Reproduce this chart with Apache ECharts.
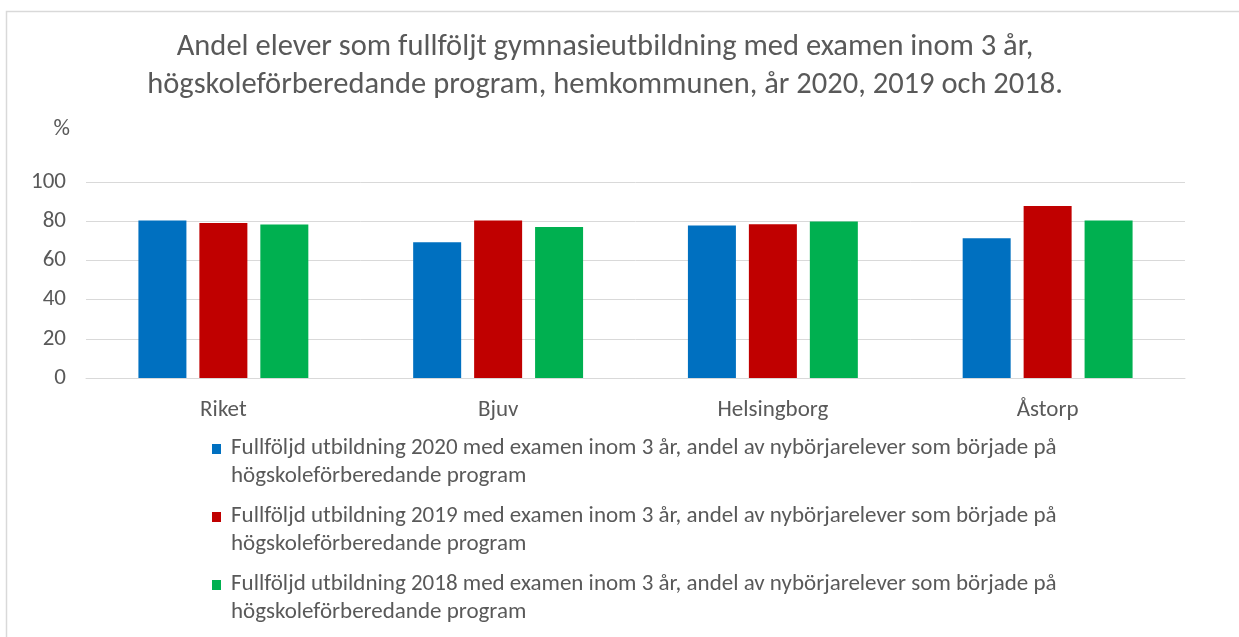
<!DOCTYPE html>
<html>
<head>
<meta charset="utf-8">
<script src="https://cdn.jsdelivr.net/npm/echarts@6/dist/echarts.min.js"></script>
<style>
  html, body { margin: 0; padding: 0; background: #ffffff; }
  #chart { width: 1239px; height: 637px; }
</style>
</head>
<body>
<div id="chart"></div>
<script>
// Kommuner och riket
const categories = ['Riket', 'Bjuv', 'Helsingborg', 'Åstorp'];

// Andel (%) som fullföljt med examen inom 3 år
const values2020 = [80.4, 69.2, 77.8, 71.3];
const values2019 = [79.1, 80.4, 78.5, 87.7];
const values2018 = [78.3, 77.1, 79.8, 80.4];

const seriesNames = [
  'Fullföljd utbildning 2020 med examen inom 3 år, andel av nybörjarelever som började på högskoleförberedande program',
  'Fullföljd utbildning 2019 med examen inom 3 år, andel av nybörjarelever som började på högskoleförberedande program',
  'Fullföljd utbildning 2018 med examen inom 3 år, andel av nybörjarelever som började på högskoleförberedande program'
];
const seriesColors = ['#0070C0', '#C00000', '#00B050'];

const yTicks = { min: 0, max: 100, interval: 20 };

const titleText = 'Andel elever som fullföljt gymnasieutbildning med examen inom 3 år,\nhögskoleförberedande program, hemkommunen, år 2020, 2019 och 2018.';

const FONT = 'Carlito, Calibri, "Liberation Sans Narrow", "Open Sans", sans-serif';
const TEXT_COLOR = '#595959';
const GRID_COLOR = '#d9d9d9';

const chart = echarts.init(document.getElementById('chart'), null, { renderer: 'canvas' });

const dataSets = [values2020, values2019, values2018];

chart.setOption({
  backgroundColor: '#ffffff',
  animation: false,
  textStyle: { fontFamily: FONT },
  title: {
    text: titleText,
    left: 600,
    textAlign: 'center',
    top: 23,
    textStyle: {
      fontFamily: FONT,
      fontSize: 30.5,
      fontWeight: 'normal',
      color: TEXT_COLOR,
      lineHeight: 38
    }
  },
  graphic: [
    {
      type: 'polyline',
      silent: true,
      shape: { points: [[6.5, 640], [6.5, 11.5], [1239, 11.5]] },
      style: { stroke: GRID_COLOR, lineWidth: 1.5, fill: null }
    }
  ],
  grid: { left: 86, right: 54, top: 182, bottom: 259, containLabel: false },
  legend: {
    orient: 'vertical',
    left: 207,
    top: 429,
    itemGap: 12,
    itemWidth: 9,
    itemHeight: 36,
    icon: 'path://M0 0H9V10H0Z M0 35.95H9V36H0Z',
    textStyle: {
      fontFamily: FONT,
      fontSize: 23,
      color: TEXT_COLOR,
      lineHeight: 28,
      padding: [0, 0, 0, 5]
    },
    formatter: function (name) {
      return name.replace(' på ', ' på\n');
    },
    data: seriesNames
  },
  xAxis: {
    type: 'category',
    data: categories,
    axisLine: { show: true, lineStyle: { color: GRID_COLOR, width: 1 } },
    axisTick: { show: false },
    axisLabel: { fontFamily: FONT, fontSize: 23, color: TEXT_COLOR, margin: 21 }
  },
  yAxis: {
    type: 'value',
    min: yTicks.min,
    max: yTicks.max,
    interval: yTicks.interval,
    name: '%',
    nameLocation: 'end',
    nameGap: 41,
    nameTextStyle: { fontFamily: FONT, fontSize: 23, color: TEXT_COLOR, align: 'right', padding: [0, 16, 0, 0] },
    axisLine: { show: false },
    axisTick: { show: false },
    axisLabel: { fontFamily: FONT, fontSize: 23, color: TEXT_COLOR, margin: 20 },
    splitLine: { show: true, lineStyle: { color: GRID_COLOR, width: 1 } }
  },
  series: dataSets.map(function (vals, i) {
    return {
      name: seriesNames[i],
      type: 'bar',
      data: vals,
      barWidth: 48,
      barGap: '27%',
      itemStyle: { color: seriesColors[i] }
    };
  })
});
</script>
</body>
</html>
